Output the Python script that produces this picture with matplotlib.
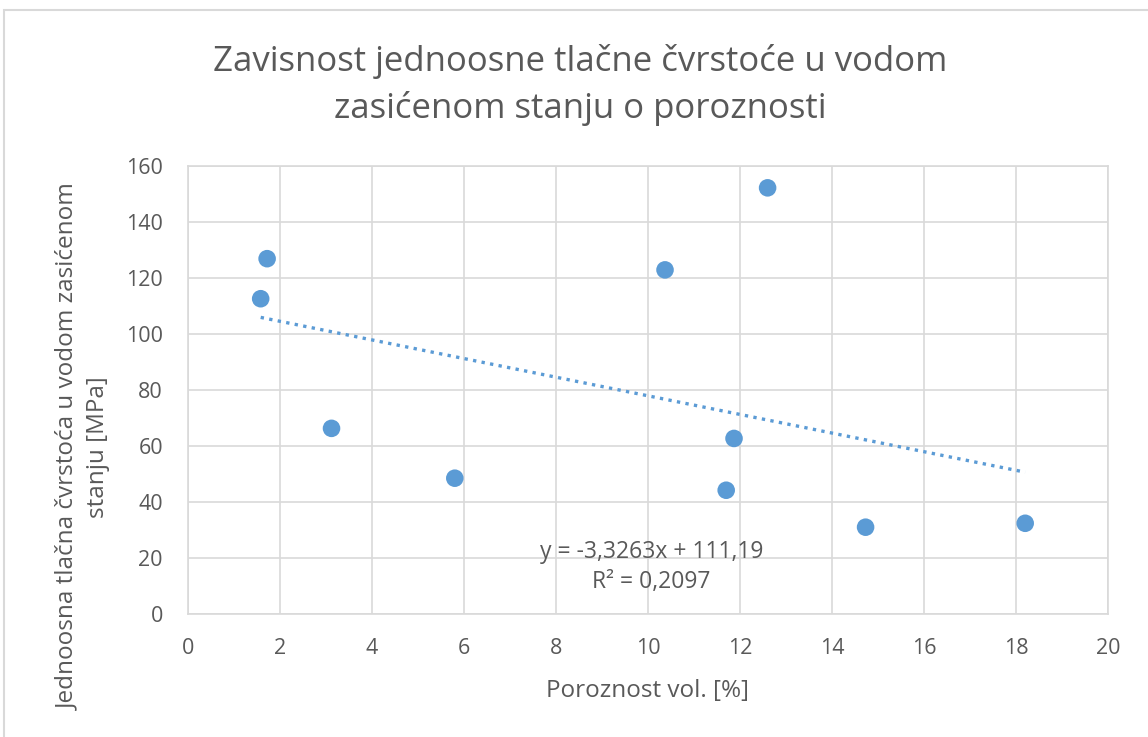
import matplotlib
matplotlib.use("Agg")
import matplotlib.pyplot as plt
import numpy as np

porosity = [1.58, 1.72, 3.12, 5.8, 10.37, 11.7, 11.87, 12.6, 14.73, 18.2]
strength = [112.6, 126.9, 66.3, 48.5, 122.9, 44.2, 62.7, 152.2, 31.0, 32.4]
slope = -3.3263
intercept = 111.19
eq_text = "y = -3,3263x + 111,19"
r2_text = "R² = 0,2097"
title = "Zavisnost jednoosne tlačne čvrstoće u vodom\nzasićenom stanju o poroznosti"
xlabel = "Poroznost vol. [%]"
ylabel = "Jednoosna tlačna čvrstoća u vodom zasićenom\nstanju [MPa]"
xticks = list(range(0, 21, 2))
yticks = list(range(0, 161, 20))

plt.rcParams['font.family'] = ['Open Sans', 'DejaVu Sans']
blue = '#5B9BD5'
gray = '#595959'
grid = '#D9D9D9'

fig = plt.figure(figsize=(11.48, 7.37), dpi=100)
fig.patches.append(plt.Rectangle((4/1148, -0.1), 1.2, 1 - 10/737 + 0.1, transform=fig.transFigure,
                                 fill=False, edgecolor='#D9D9D9', linewidth=1.5))
ax = fig.add_axes([188/1148, 1 - 614/737, 920/1148, 448/737])
ax.set_xlim(0, 20)
ax.set_ylim(0, 160)
ax.set_xticks(xticks)
ax.set_yticks(yticks)
ax.grid(True, color=grid, linewidth=1.2)
ax.set_axisbelow(True)
for s in ax.spines.values():
    s.set_color(grid)
    s.set_linewidth(1.2)
ax.tick_params(length=0, labelsize=15.5, colors=gray)
ax.tick_params(axis='x', pad=17)
ax.tick_params(axis='y', pad=18)

xs = np.array([min(porosity), max(porosity)])
ax.plot(xs, slope * xs + intercept, linestyle=(0, (1, 1.6)), color=blue, linewidth=2.4)
ax.scatter(porosity, strength, s=160, color=blue, zorder=3, edgecolors='none')

ax.text(10.07, 22.1, eq_text, ha='center', va='center', fontsize=16.5, color=gray)
ax.text(10.07, 11.4, r2_text, ha='center', va='center', fontsize=16.5, color=gray)

ax.set_xlabel(xlabel, fontsize=17.5, color=gray, labelpad=15)
fig.text(83/1148, 1 - 447/737, ylabel, ha='center', va='center', rotation=90,
         fontsize=17.5, color=gray, multialignment='center', linespacing=1.3)

fig.text(580/1148, 1 - 85/737, title, ha='center', va='center', fontsize=25, color=gray,
         linespacing=1.45)

fig.savefig("out.png", dpi=100)
